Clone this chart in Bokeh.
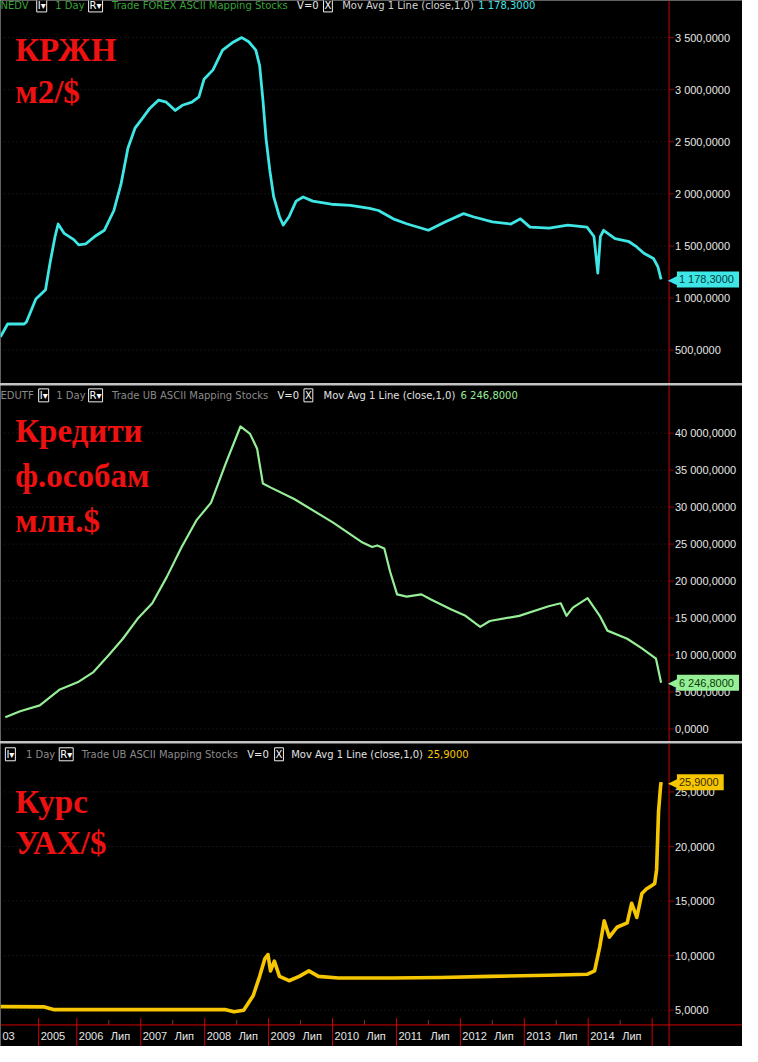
from bokeh.plotting import figure
from bokeh.models import Range1d, Label, Span
from bokeh.layouts import column
from bokeh.embed import file_html
from bokeh.resources import INLINE
from bokeh.core.properties import value

# ---------------- data ----------------
KRZHN_DATE = [2003.50, 2003.78, 2004.43, 2004.52, 2004.89, 2005.18, 2005.30, 2005.43, 2005.51, 2005.67,
              2005.92, 2006.03, 2006.14, 2006.28, 2006.43, 2006.58, 2006.69, 2006.80, 2006.91, 2007.02,
              2007.14, 2007.28, 2007.40, 2007.54, 2007.65, 2007.80, 2007.91, 2007.99, 2008.13, 2008.28,
              2008.43, 2008.58, 2008.69, 2008.80, 2008.86, 2008.91, 2008.96, 2009.02, 2009.08, 2009.17,
              2009.23, 2009.32, 2009.43, 2009.54, 2009.69, 2009.98, 2010.28, 2010.58, 2010.72, 2010.95,
              2011.17, 2011.50, 2011.76, 2012.05, 2012.20, 2012.50, 2012.79, 2012.94, 2013.09, 2013.39,
              2013.68, 2013.98, 2014.09, 2014.15, 2014.19, 2014.24, 2014.42, 2014.64, 2014.76, 2014.87,
              2015.02, 2015.09, 2015.14]
KRZHN_USD_M2 = [627, 750, 750, 770, 990, 1080, 1340, 1590, 1710, 1620,
                1560, 1510, 1520, 1590, 1650, 1840, 2090, 2440, 2630, 2720,
                2820, 2900, 2880, 2800, 2850, 2880, 2930, 3100, 3190, 3380,
                3450, 3500, 3460, 3380, 3230, 2910, 2530, 2220, 1970, 1780,
                1700, 1780, 1930, 1970, 1930, 1900, 1890, 1860, 1840, 1760,
                1710, 1650, 1730, 1810, 1780, 1730, 1710, 1760, 1680, 1670,
                1700, 1680, 1590, 1240, 1590, 1650, 1570, 1540, 1490, 1430,
                1380, 1300, 1178.3]

CREDIT_DATE = [2003.69, 2004.27, 2005.03, 2005.54, 2006.03, 2006.26, 2006.49, 2006.72, 2006.95, 2007.18,
               2007.41, 2007.64, 2007.87, 2008.10, 2008.33, 2008.56, 2008.71, 2008.82, 2008.91, 2009.02,
               2009.40, 2010.01, 2010.47, 2010.62, 2010.70, 2010.81, 2010.90, 2011.01, 2011.16, 2011.39,
               2011.54, 2011.85, 2012.08, 2012.31, 2012.46, 2012.92, 2013.38, 2013.57, 2013.66, 2013.76,
               2013.99, 2014.18, 2014.30, 2014.61, 2014.84, 2015.06, 2015.14]
CREDIT_MLN_USD = [1600, 2400, 3200, 5300, 6400, 7700, 9900, 12200, 14900, 17000,
                  20600, 24600, 28200, 30600, 35900, 40900, 39900, 37900, 33200, 32700,
                  31100, 27900, 25200, 24600, 24800, 24400, 21300, 18200, 17900, 18200,
                  17500, 16200, 15300, 13800, 14600, 15300, 16600, 17000, 15300, 16400,
                  17700, 15300, 13300, 12200, 10900, 9500, 6246.8]

UAH_DATE = [2003.50, 2005.15, 2005.41, 2006.34, 2008.33, 2008.46, 2008.61, 2008.76, 2008.86, 2008.94,
            2008.99, 2009.03, 2009.09, 2009.17, 2009.32, 2009.48, 2009.63, 2009.78, 2010.09, 2010.93,
            2011.70, 2012.46, 2013.38, 2013.99, 2014.10, 2014.18, 2014.25, 2014.33, 2014.45, 2014.61,
            2014.68, 2014.76, 2014.84, 2014.91, 2014.99, 2015.04, 2015.07, 2015.10, 2015.13, 2015.14]
UAH_PER_USD = [5.33, 5.30, 5.05, 5.05, 5.05, 4.85, 5.00, 6.35, 8.10, 9.70,
               10.10, 8.60, 9.50, 8.10, 7.70, 8.10, 8.60, 8.10, 7.95, 7.95,
               8.00, 8.10, 8.20, 8.30, 8.60, 10.80, 13.20, 11.70, 12.60, 13.00,
               14.80, 13.50, 15.70, 16.10, 16.40, 16.60, 17.90, 23.20, 25.40, 25.90]

P1_TICKS = [500, 1000, 1500, 2000, 2500, 3000, 3500]
P2_TICKS = [0, 5000, 10000, 15000, 20000, 25000, 30000, 35000, 40000]
P3_TICKS = [5, 10, 15, 20, 25]
YEAR_TICKS = [2005, 2006, 2007, 2008, 2009, 2010, 2011, 2012, 2013, 2014, 2015]
YEAR_LABELS = ["03", "2005", "2006", "2007", "2008", "2009", "2010", "2011", "2012", "2013", "2014"]
YEAR_LABEL_AT = [2003, 2005, 2006, 2007, 2008, 2009, 2010, 2011, 2012, 2013, 2014]
JULY_YEARS = [2006, 2007, 2008, 2009, 2010, 2011, 2012, 2013, 2014]
JULY_LABEL = "Лип"


# ---------------- scale helpers ----------------
def axis_x(t):
    """Broken time scale of the trading terminal: 2003-2005 are compressed."""
    if t >= 2006:
        return t
    if t >= 2005:
        return 2006 - (2006 - t) * 0.597
    return 2005.403 - (2005 - t) * 0.398


def fmt(v):
    return f"{v:,.4f}".replace(",", " ").replace(".", ",")


X0 = axis_x(2003.5)
X1 = 2015.265            # red price-axis line
REF_FRAME_W = 683.0


def xdat(px):
    return X0 + px / REF_FRAME_W * (X1 - X0)


def ydat(rng, href, px):
    return rng[1] - px / href * (rng[1] - rng[0])


XR = xdat(758)

CYAN = "#3fe6e6"
LGREEN = "#96ee96"
YELLOW = "#f6c600"
RED_TXT = "#ee1111"
AX_RED = "#d00000"
GREEN_H = "#39a439"
GREY_H = "#8a8a8a"
FONT = "Liberation Sans"
HFONT = "DejaVu Sans"
W = 742


def make_fig(h, yr):
    p = figure(width=W, height=h, x_range=Range1d(X0, XR), y_range=Range1d(*yr),
               output_backend="svg", toolbar_location=None,
               x_axis_location=None, y_axis_location=None,
               background_fill_color="black", border_fill_color="black",
               min_border=0, outline_line_color=None)
    for g in p.grid:
        g.visible = False
    return p


def draw_price_axis(p, ticks):
    n = len(ticks)
    p.segment(x0=[X0] * n, y0=ticks, x1=[X1] * n, y1=ticks, line_color="#262626",
              line_dash="1 3", line_width=1)
    p.add_layout(Span(location=X1, dimension="height", line_color=AX_RED, line_width=1))
    p.segment(x0=[X1] * n, y0=ticks, x1=[xdat(688)] * n, y1=ticks, line_color="#9a0000",
              line_width=1)
    p.text(x=[xdat(689)] * n, y=ticks, text=[fmt(t) for t in ticks], text_color="#e6e6e6",
           text_font=value(FONT), text_font_size="11px", text_baseline="middle",
           text_align="left")


def add_header(p, rng, href, ypx, parts):
    y = ydat(rng, href, ypx)
    for text, xpx, col, boxed in parts:
        kw = dict(x=xdat(xpx), y=y, text=text, text_color=col, text_font=HFONT,
                  text_font_size="10px", text_baseline="middle", text_align="left")
        if boxed:
            kw.update(border_line_color="#f0f0f0", border_line_width=1,
                      background_fill_color="black", padding=1)
        p.add_layout(Label(**kw))


def add_big(p, rng, href, lines):
    for text, base in lines:
        p.add_layout(Label(x=xdat(15), y=ydat(rng, href, base), text=text, text_color=RED_TXT,
                           text_font="Liberation Serif", text_font_style="bold",
                           text_font_size="33px", text_baseline="alphabetic", text_align="left"))


def add_tag(p, v, col, txt_col):
    p.add_layout(Label(x=xdat(682), y=v, text="◀", text_color=col, text_font=HFONT,
                       text_font_size="13px", text_baseline="middle", text_align="left"))
    p.add_layout(Label(x=xdat(691), y=v, text=fmt(v) + "\u00a0", text_color=txt_col,
                       text_font=FONT, text_font_size="11px", text_baseline="middle",
                       text_align="left", background_fill_color=col, padding=2))


# ---------------- panel 1 ----------------
R1 = (179, 3856)
H1REF = 389
p1 = make_fig(383, R1)
draw_price_axis(p1, P1_TICKS)
p1.line([axis_x(t) for t in KRZHN_DATE], KRZHN_USD_M2, line_color=CYAN, line_width=2.8,
        line_join="round")
add_header(p1, R1, H1REF, 5, [
    ("NEDV", 0, GREEN_H, False), ("I▾", 37, "#ffffff", True), ("1 Day", 56, GREEN_H, False),
    ("R▾", 90, "#ffffff", True), ("Trade FOREX ASCII Mapping Stocks", 114, GREEN_H, False),
    ("V=0", 303, "#e8e8e8", False), ("X", 330, "#ffffff", True),
    ("Mov Avg 1 Line (close,1,0)", 349, "#d4d4d4", False),
    (fmt(KRZHN_USD_M2[-1]), 488, CYAN, False)])
add_big(p1, R1, H1REF, [("КРЖН", 50), ("м2/$", 93)])
add_tag(p1, KRZHN_USD_M2[-1], CYAN, "#004040")

# ---------------- panel 2 ----------------
R2 = (-1690, 46440)
H2REF = 361
p2 = make_fig(356, R2)
draw_price_axis(p2, P2_TICKS)
p2.line([axis_x(t) for t in CREDIT_DATE], CREDIT_MLN_USD, line_color=LGREEN, line_width=2.2,
        line_join="round")
add_header(p2, R2, H2REF, 10, [
    ("EDUTF", 0, GREY_H, False), ("I▾", 39, "#ffffff", True), ("1 Day", 57, GREY_H, False),
    ("R▾", 90, "#ffffff", True), ("Trade UB ASCII Mapping Stocks", 114, GREY_H, False),
    ("V=0", 283, "#e8e8e8", False), ("X", 310, "#ffffff", True),
    ("Mov Avg 1 Line (close,1,0)", 330, "#e0e0e0", False),
    (fmt(CREDIT_MLN_USD[-1]), 470, LGREEN, False)])
add_big(p2, R2, H2REF, [("Кредити", 46), ("ф.особам", 92), ("млн.$", 137)])
add_tag(p2, CREDIT_MLN_USD[-1], LGREEN, "#0a400a")

# ---------------- panel 3 (with the time-axis row) ----------------
H3REF = 309          # reference height incl. 22 px axis row
AXIS_PX = 287        # reference position of the time axis line
R3 = (1.673, 29.44)
AXIS_Y = ydat(R3, H3REF, AXIS_PX)
p3 = make_fig(303, R3)
draw_price_axis(p3, P3_TICKS)
p3.line([axis_x(t) for t in UAH_DATE], UAH_PER_USD, line_color=YELLOW, line_width=3.6,
        line_join="round")
add_header(p3, R3, H3REF, 11, [
    ("I▾", 5, "#ffffff", True), ("1 Day", 26, GREY_H, False),
    ("R▾", 60, "#ffffff", True), ("Trade UB ASCII Mapping Stocks", 83, GREY_H, False),
    ("V=0", 252, "#e8e8e8", False), ("X", 280, "#ffffff", True),
    ("Mov Avg 1 Line (close,1,0)", 297, "#e0e0e0", False),
    (fmt(UAH_PER_USD[-1]), 436, YELLOW, False)])
add_big(p3, R3, H3REF, [("Курс", 60), ("УАХ/$", 101)])

# time axis
p3.add_layout(Span(location=AXIS_Y, dimension="width", line_color=AX_RED, line_width=1))
yt = [axis_x(y) for y in YEAR_TICKS]
p3.segment(x0=yt, y0=[R3[0]] * len(yt), x1=yt, y1=[ydat(R3, H3REF, AXIS_PX - 7)] * len(yt),
           line_color=AX_RED, line_width=1)
jt = [axis_x(y + 0.5) for y in JULY_YEARS]
p3.segment(x0=jt, y0=[AXIS_Y] * len(jt), x1=jt, y1=[ydat(R3, H3REF, AXIS_PX - 5)] * len(jt),
           line_color="#8a3030", line_width=1)
lab_x = [max(X0, axis_x(y)) for y in YEAR_LABEL_AT] + jt
lab_t = YEAR_LABELS + [JULY_LABEL] * len(JULY_YEARS)
p3.text(x=lab_x, y=[ydat(R3, H3REF, 298)] * len(lab_x), text=lab_t, x_offset=2,
        text_color="#e6e6e6", text_font=value(FONT), text_font_size="11px",
        text_baseline="middle", text_align="left")
add_tag(p3, UAH_PER_USD[-1], YELLOW, "#3a2a00")

layout = column(p1, p2, p3, spacing=2, styles={"background-color": "#c4c4c4"})

open("out.html", "w").write(file_html(layout, INLINE))
